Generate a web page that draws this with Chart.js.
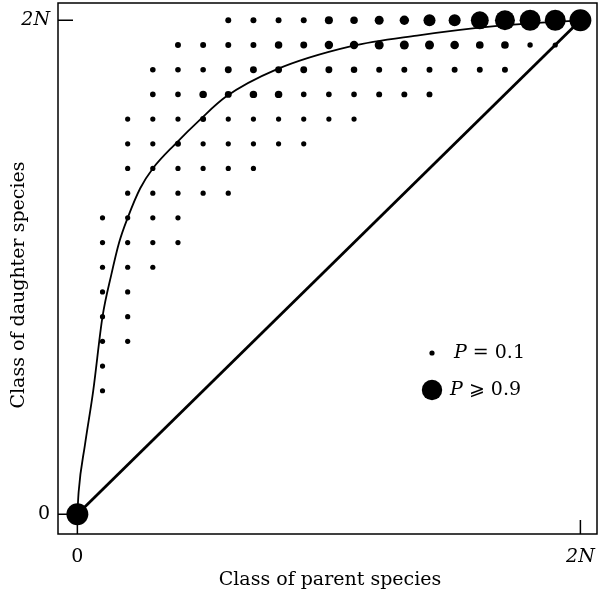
<!DOCTYPE html>
<html>
<head>
<meta charset="utf-8">
<script src="https://cdn.jsdelivr.net/npm/chart.js@4.4.1/dist/chart.umd.min.js"></script>
<style>
  html, body { margin: 0; padding: 0; background: #fff; }
  #chart { display: block; }
</style>
</head>
<body>
<canvas id="chart" width="599" height="595"></canvas>
<script>
// axis ticks (class 0 and class 2N)
const classTicks = [0, 20];
const tickText = ['0', '2N'];

// dot grid: one row per daughter class, starting at a parent class
const daughterRows = [20, 19, 18, 17, 16, 15, 14, 13, 12, 11, 10, 9, 8, 7, 6, 5, 0];
const firstParent  = [ 6,  4,  3,  3,  2,  2,  2,  2,  1,  1,  1, 1, 1, 1, 1, 1, 0];
const rowProb = [
  [0.14, 0.14, 0.14, 0.14, 0.25, 0.22, 0.30, 0.32, 0.46, 0.46, 0.77, 0.88, 0.93, 0.93, 0.98],
  [0.14, 0.14, 0.14, 0.14, 0.22, 0.19, 0.27, 0.27, 0.30, 0.30, 0.30, 0.28, 0.23, 0.23, 0.11, 0.10],
  [0.12, 0.12, 0.12, 0.19, 0.19, 0.19, 0.19, 0.19, 0.17, 0.14, 0.14, 0.14, 0.14, 0.14, 0.14],
  [0.12, 0.12, 0.22, 0.19, 0.22, 0.22, 0.12, 0.12, 0.12, 0.14, 0.14, 0.14],
  [0.10, 0.10, 0.10, 0.14, 0.10, 0.10, 0.10, 0.10, 0.10, 0.10],
  [0.10, 0.10, 0.14, 0.10, 0.10, 0.10, 0.10, 0.10],
  [0.10, 0.10, 0.10, 0.10, 0.10, 0.10],
  [0.10, 0.10, 0.10, 0.10, 0.10],
  [0.10, 0.10, 0.10, 0.10],
  [0.10, 0.10, 0.10, 0.10],
  [0.10, 0.10, 0.10],
  [0.10, 0.10],
  [0.10, 0.10],
  [0.10, 0.10],
  [0.10],
  [0.10],
  [0.98]
];

// expected-class curve
const curveParent   = [0, 0.05, 0.3, 0.63, 1.0, 1.35, 1.66, 2.0, 2.5, 3.0, 3.9, 4.9, 5.9, 7.9, 10.9, 13.5, 16.5, 20];
const curveDaughter = [0, 0.9, 2.8, 5.0, 8.0, 9.7, 11.0, 12.0, 13.2, 14.0, 15.0, 16.0, 16.9, 18.0, 18.95, 19.38, 19.75, 20];

// diagonal (daughter = parent)
const diagParent = [0, 20];
const diagDaughter = [0, 20];

// legend entries
const legendProb = [0.1, 0.9];
const legendOp = ['=', '\u2A7E'];

const SERIF = '"DejaVu Serif", "Liberation Serif", serif';

function probRadius(p) {
  return 2.6 + (p - 0.1) * 9.5;
}

const dots = [];
daughterRows.forEach((d, r) => {
  rowProb[r].forEach((p, k) => {
    dots.push({ x: firstParent[r] + k, y: d, p: p });
  });
});

const curvePts = curveParent.map((x, i) => ({ x: x, y: curveDaughter[i] }));
const diagPts = diagParent.map((x, i) => ({ x: x, y: diagDaughter[i] }));

// frame + inward tick marks, under the dots
const framePlugin = {
  id: 'frame',
  beforeDatasetsDraw(chart) {
    const { ctx, chartArea: a, scales } = chart;
    ctx.save();
    ctx.strokeStyle = '#000';
    ctx.lineWidth = 1.5;
    ctx.strokeRect(a.left, a.top, a.right - a.left, a.bottom - a.top);
    classTicks.forEach(v => {
      const px = scales.x.getPixelForValue(v);
      const py = scales.y.getPixelForValue(v);
      ctx.beginPath();
      ctx.moveTo(px, a.bottom);
      ctx.lineTo(px, a.bottom - 14);
      ctx.moveTo(a.left, py);
      ctx.lineTo(a.left + 15, py);
      ctx.stroke();
    });
    ctx.restore();
  }
};

// axis titles and the P legend
const textPlugin = {
  id: 'texts',
  afterDraw(chart) {
    const { ctx } = chart;
    ctx.save();
    ctx.fillStyle = '#000';
    ctx.font = '19px ' + SERIF;
    ctx.textAlign = 'center';
    ctx.textBaseline = 'alphabetic';
    ctx.fillText('Class of parent species', 330, 585);
    ctx.translate(24, 285);
    ctx.rotate(-Math.PI / 2);
    ctx.fillText('Class of daughter species', 0, 0);
    ctx.restore();

    ctx.save();
    ctx.fillStyle = '#000';
    ctx.textBaseline = 'middle';
    ctx.textAlign = 'left';
    legendProb.forEach((p, i) => {
      const cy = 353 + i * 37;
      ctx.beginPath();
      ctx.arc(432, cy, probRadius(p), 0, Math.PI * 2);
      ctx.fill();
      let x = i === 0 ? 454 : 450;
      ctx.font = 'italic 19px ' + SERIF;
      ctx.fillText('P', x, cy);
      x += ctx.measureText('P').width;
      ctx.font = '19px ' + SERIF;
      const rest = ' ' + legendOp[i] + ' ' + p.toFixed(1);
      ctx.fillText(rest, x, cy);
    });
    ctx.restore();
  }
};

function tickFont(ctx) {
  const italic = ctx.tick && ctx.tick.value === classTicks[1];
  return { family: SERIF, size: 19, style: italic ? 'italic' : 'normal' };
}

function classScale(min, max, fitKey, fitSize, pad) {
  return {
    type: 'linear',
    min: min,
    max: max,
    grid: { display: false, drawTicks: false },
    border: { display: false },
    afterBuildTicks: s => { s.ticks = classTicks.map(v => ({ value: v })); },
    afterFit: s => {
      s[fitKey] = fitSize;
      // label overhang must not push the plot frame inwards
      s.paddingLeft = 0;
      s.paddingRight = 0;
      s.paddingTop = 0;
      s.paddingBottom = 0;
    },
    ticks: {
      color: '#000',
      padding: pad,
      font: tickFont,
      callback: v => tickText[classTicks.indexOf(v)]
    }
  };
}

new Chart(document.getElementById('chart'), {
  type: 'scatter',
  data: {
    datasets: [
      {
        data: dots,
        backgroundColor: '#000',
        borderWidth: 0,
        pointRadius: c => probRadius(c.raw.p),
        pointHoverRadius: c => probRadius(c.raw.p)
      },
      {
        data: curvePts,
        showLine: true,
        borderColor: '#000',
        borderWidth: 1.8,
        pointRadius: 0,
        cubicInterpolationMode: 'monotone'
      },
      {
        data: diagPts,
        showLine: true,
        borderColor: '#000',
        borderWidth: 2.8,
        pointRadius: 0
      }
    ]
  },
  options: {
    responsive: false,
    animation: false,
    events: [],
    layout: { autoPadding: false, padding: { top: 3, right: 2, left: 0, bottom: 0 } },
    plugins: { legend: { display: false }, tooltip: { enabled: false } },
    scales: {
      x: classScale(-0.77, 20.66, 'height', 61, 12),
      y: classScale(-0.8, 20.7, 'width', 58, 8)
    }
  },
  plugins: [framePlugin, textPlugin]
});
</script>
</body>
</html>
